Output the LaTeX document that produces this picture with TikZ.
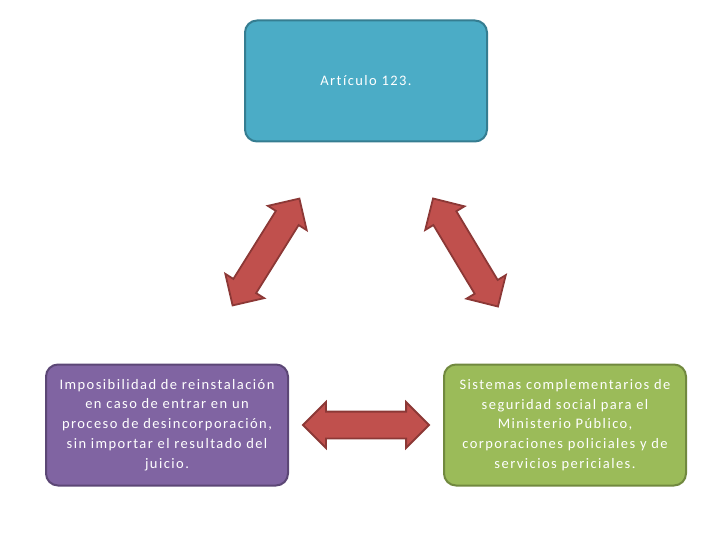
\documentclass[tikz,border=0pt]{standalone}
\usepackage{fontspec}
\setmainfont[LetterSpace=10,Ligatures=NoCommon]{Carlito}
\usetikzlibrary{shapes.arrows}
\definecolor{topfill}{HTML}{4BACC6}
\definecolor{topline}{HTML}{357D91}
\definecolor{leftfill}{HTML}{8064A2}
\definecolor{leftline}{HTML}{5C4776}
\definecolor{rightfill}{HTML}{9BBB59}
\definecolor{rightline}{HTML}{71893F}
\definecolor{arrfill}{HTML}{C0504D}
\definecolor{arrline}{HTML}{8C3836}
\begin{document}
\begin{tikzpicture}[x=1pt,y=-1pt,
    card/.style={draw,line width=2pt,rounded corners=12pt,minimum width=242pt,minimum height=121pt,
      text=white,align=center,font=\fontsize{14.5}{19.8}\selectfont},
    dblarrow/.style={double arrow,draw=arrline,fill=arrfill,line width=1.8pt,inner sep=0pt,
      text height=12.5pt,text depth=12.5pt,double arrow head extend=9.5pt,
      double arrow tip angle=90,minimum height=126pt}]
  \useasboundingbox (0,0) rectangle (720,540);
  \node[card,draw=topline,fill=topfill] (art) at (366,81) {Artículo 123.};
  \node[card,draw=leftline,fill=leftfill] (imp) at (167,425) {Imposibilidad de reinstalación\\en caso de entrar en un\\proceso de desincorporación,\\sin importar el resultado del\\juicio.};
  \node[card,draw=rightline,fill=rightfill] (sis) at (565,425) {Sistemas complementarios de\\seguridad social para el\\Ministerio Público,\\corporaciones policiales y de\\servicios periciales.};
  \node[dblarrow,rotate=58] (aleft) at (266,252) {};
  \node[dblarrow,rotate=-59] (aright) at (465.5,252.5) {};
  \node[dblarrow] (abottom) at (366,425) {};
\end{tikzpicture}
\end{document}
